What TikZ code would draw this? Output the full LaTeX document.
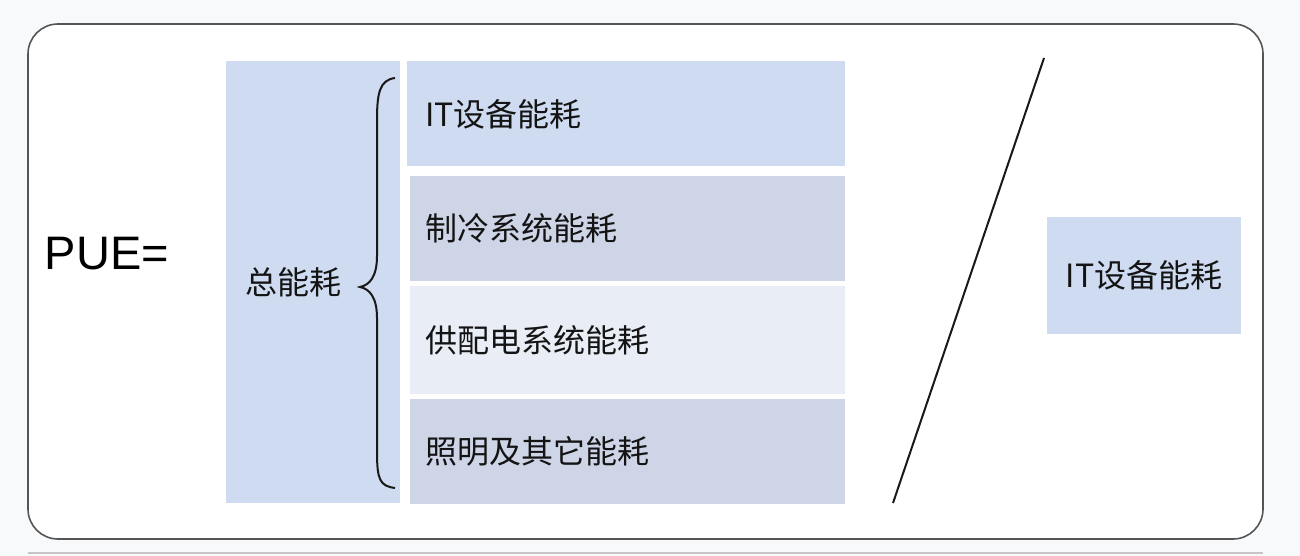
\documentclass[tikz,border=0pt]{standalone}
\usepackage{fontspec}
\setmainfont{Noto Sans CJK SC}
\newfontfamily\puefont{Liberation Sans}
\usetikzlibrary{positioning}
\definecolor{itblue}{HTML}{CEDBF1}
\definecolor{greyblue}{HTML}{CDD5E7}
\definecolor{paleblue}{HTML}{E8EDF6}
\definecolor{framegrey}{HTML}{555555}
\definecolor{pagebg}{HTML}{F8F9FB}
\newcommand{\nh}{能耗}
\tikzset{
  block/.style={fill=#1, anchor=north west, inner ysep=0pt, align=left,
    font=\fontsize{16}{19}\selectfont, text=black!92},
  layer/.style={block=#1, inner xsep=7.5pt, text width=202.5pt}
}

\begin{document}
\begin{tikzpicture}[x=1pt,y=1pt]
  \fill[pagebg] (0,0) rectangle (650,-278);
  \useasboundingbox (0,0) rectangle (650,-278);
  \draw[framegrey, fill=white, line width=0.8pt, rounded corners=15pt] (14,-12) rectangle (631.5,-269.5);
  \draw[gray!45, line width=1pt] (14,-276.5) -- (631.5,-276.5);

  \node [font=\puefont\fontsize{23.5}{28}\selectfont] (1) at (53.5,-127) {PUE=};
  \node [block=itblue, minimum height=221pt, inner xsep=9.5pt, text width=68pt] (2) at (113,-30.5) {总\nh};
  \node [block=itblue, minimum height=52.5pt, inner xsep=9pt, text width=201pt] (3) at (203.5,-30.5) {IT设备\nh};
  \node [layer=greyblue, minimum height=52.5pt, below=4.5pt of 3.south east, anchor=north east] (4) {制冷系统\nh};
  \node [layer=paleblue, minimum height=54pt, below=2pt of 4.south east, anchor=north east] (5) {供配电系统\nh};
  \node [layer=greyblue, minimum height=52.5pt, below=2pt of 5.south east, anchor=north east] (6) {照明及其它\nh};
  \node [block=itblue, anchor=center, align=center, minimum width=97pt, minimum height=58.5pt] (7) at (572,-137.75) {IT设备\nh};

  % brace
  \draw[black!90, line width=1pt] (197.5,-39) .. controls (190,-40) and (188.5,-46) .. (188.5,-60)
    -- (188.5,-128) .. controls (188.5,-138) and (185,-142.5) .. (180,-143.5)
    .. controls (185,-144.5) and (188.5,-149) .. (188.5,-159)
    -- (188.5,-226) .. controls (188.5,-240) and (190,-243) .. (197.5,-244);
  % divide
  \coordinate (bot) at (446.5,-251.5);
  \coordinate (top) at (522,-29);
  \draw[black!90, line width=1pt] (bot) -- (top);
\end{tikzpicture}
\end{document}
